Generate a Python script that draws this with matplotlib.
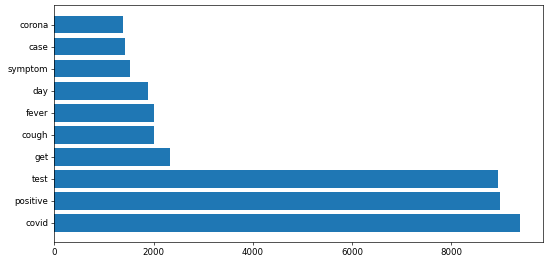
import matplotlib
matplotlib.use("Agg")
import matplotlib.pyplot as plt

words = ["covid", "positive", "test", "get", "cough", "fever", "day", "symptom", "case", "corona"]
counts = [9390, 8990, 8950, 2330, 2020, 2000, 1880, 1530, 1420, 1390]

fig = plt.figure(figsize=(5.5, 2.63), dpi=100)
ax = fig.add_axes([0.0987, 0.078, 0.8893, 0.903])
ax.barh(words, counts, color="#1f77b4")
s = 0.6
for sp in ax.spines.values():
    sp.set_linewidth(0.8 * s)
ax.tick_params(labelsize=6.2, length=3.5 * s, width=0.8 * s, pad=3.5 * s)
fig.savefig("out.png", dpi=100)
